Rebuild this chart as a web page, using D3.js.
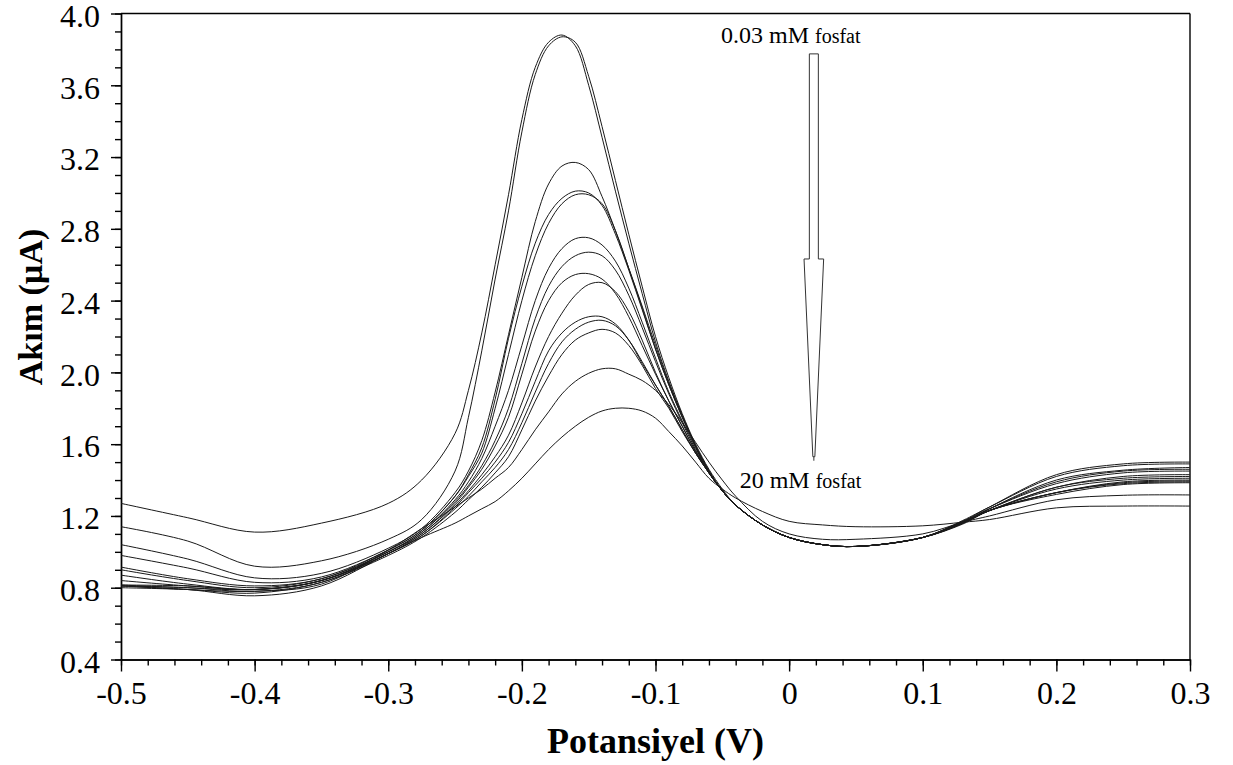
<!DOCTYPE html>
<html>
<head>
<meta charset="utf-8">
<script src="https://cdn.jsdelivr.net/npm/d3@7"></script>
<style>
  body { margin: 0; background: #fff; }
  text { font-family: "Liberation Serif", "Times New Roman", serif; fill: #000; }
  .axis path, .axis line { stroke: #000; stroke-width: 1.4; }
  .axis text { font-size: 32px; }
  .curve { fill: none; stroke: #1a1a1a; stroke-width: 1; }
</style>
</head>
<body>
<div id="chart"></div>
<script>
// potential grid (V) the curves were read at
var potential = [-0.5, -0.45, -0.4, -0.35, -0.3, -0.275, -0.25, -0.24, -0.23, -0.22, -0.21, -0.2, -0.19, -0.18,
  -0.17, -0.16, -0.15, -0.14, -0.13, -0.12, -0.11, -0.1, -0.09, -0.08, -0.07, -0.06, -0.05,
  -0.04, -0.02, 0, 0.025, 0.05, 0.1, 0.13, 0.15, 0.2, 0.25, 0.3];

// current (uA), one array per phosphate concentration, highest peak first
var curve1 = [1.27, 1.19, 1.11, 1.16, 1.27, 1.40, 1.66, 1.90, 2.22, 2.60, 2.99, 3.41, 3.70, 3.84, 3.88, 3.82, 3.60, 3.31, 3.01, 2.72, 2.44, 2.17, 1.95, 1.76, 1.59, 1.45, 1.34, 1.26, 1.15, 1.08, 1.04, 1.03, 1.08, 1.16, 1.24, 1.40, 1.455, 1.47];
var curve2 = [1.14, 1.06, 0.92, 0.95, 1.07, 1.18, 1.45, 1.75, 2.12, 2.52, 2.90, 3.34, 3.66, 3.82, 3.87, 3.84, 3.65, 3.37, 3.07, 2.77, 2.48, 2.20, 1.97, 1.77, 1.60, 1.46, 1.35, 1.26, 1.15, 1.08, 1.04, 1.03, 1.08, 1.17, 1.25, 1.43, 1.49, 1.50];
var curve3 = [1.04, 0.96, 0.855, 0.88, 1.02, 1.13, 1.33, 1.45, 1.62, 1.89, 2.21, 2.53, 2.84, 3.05, 3.15, 3.17, 3.13, 2.98, 2.79, 2.58, 2.37, 2.15, 1.94, 1.76, 1.59, 1.45, 1.34, 1.26, 1.15, 1.08, 1.04, 1.03, 1.08, 1.175, 1.25, 1.42, 1.48, 1.49];
var curve4 = [0.98, 0.91, 0.83, 0.86, 1.01, 1.12, 1.31, 1.43, 1.58, 1.85, 2.19, 2.48, 2.72, 2.88, 2.97, 3.01, 3.00, 2.93, 2.77, 2.57, 2.35, 2.13, 1.93, 1.75, 1.59, 1.45, 1.34, 1.26, 1.15, 1.08, 1.04, 1.03, 1.08, 1.165, 1.24, 1.39, 1.45, 1.46];
var curve5 = [0.915, 0.85, 0.81, 0.85, 1.01, 1.12, 1.31, 1.42, 1.55, 1.80, 2.10, 2.40, 2.65, 2.83, 2.94, 2.99, 2.99, 2.94, 2.79, 2.58, 2.36, 2.13, 1.93, 1.75, 1.59, 1.45, 1.34, 1.26, 1.15, 1.08, 1.04, 1.03, 1.08, 1.17, 1.24, 1.38, 1.44, 1.45];
var curve6 = [0.90, 0.84, 0.80, 0.85, 1.00, 1.11, 1.29, 1.39, 1.52, 1.70, 1.90, 2.15, 2.40, 2.58, 2.69, 2.745, 2.75, 2.71, 2.62, 2.47, 2.28, 2.08, 1.89, 1.73, 1.58, 1.44, 1.34, 1.26, 1.15, 1.08, 1.04, 1.03, 1.08, 1.16, 1.23, 1.36, 1.42, 1.43];
var curve7 = [0.87, 0.82, 0.79, 0.84, 1.00, 1.11, 1.28, 1.37, 1.48, 1.62, 1.80, 2.05, 2.30, 2.48, 2.59, 2.65, 2.67, 2.65, 2.57, 2.43, 2.25, 2.06, 1.88, 1.72, 1.57, 1.44, 1.34, 1.26, 1.15, 1.08, 1.04, 1.03, 1.08, 1.165, 1.23, 1.35, 1.40, 1.41];
var curve8 = [0.84, 0.81, 0.79, 0.84, 1.00, 1.10, 1.27, 1.36, 1.46, 1.59, 1.75, 1.99, 2.23, 2.40, 2.50, 2.545, 2.55, 2.52, 2.44, 2.31, 2.15, 1.99, 1.84, 1.70, 1.56, 1.44, 1.34, 1.26, 1.15, 1.08, 1.04, 1.03, 1.08, 1.17, 1.23, 1.36, 1.41, 1.42];
var curve9 = [0.815, 0.80, 0.79, 0.84, 0.99, 1.10, 1.26, 1.34, 1.43, 1.53, 1.65, 1.83, 2.03, 2.20, 2.33, 2.43, 2.49, 2.50, 2.45, 2.34, 2.18, 2.00, 1.84, 1.70, 1.56, 1.44, 1.34, 1.26, 1.15, 1.08, 1.04, 1.03, 1.08, 1.16, 1.23, 1.33, 1.38, 1.39];
var curve10 = [0.81, 0.80, 0.78, 0.83, 0.99, 1.09, 1.25, 1.33, 1.41, 1.50, 1.61, 1.77, 1.95, 2.12, 2.22, 2.28, 2.31, 2.31, 2.27, 2.18, 2.05, 1.93, 1.81, 1.68, 1.55, 1.44, 1.34, 1.26, 1.15, 1.08, 1.04, 1.03, 1.08, 1.165, 1.23, 1.33, 1.39, 1.40];
var curve11 = [0.815, 0.81, 0.79, 0.84, 0.99, 1.09, 1.24, 1.31, 1.39, 1.47, 1.57, 1.72, 1.89, 2.05, 2.17, 2.24, 2.28, 2.29, 2.26, 2.18, 2.06, 1.93, 1.81, 1.68, 1.55, 1.44, 1.34, 1.26, 1.15, 1.08, 1.04, 1.03, 1.08, 1.155, 1.23, 1.32, 1.375, 1.385];
var curve12 = [0.80, 0.79, 0.77, 0.83, 0.98, 1.08, 1.22, 1.29, 1.36, 1.44, 1.53, 1.68, 1.84, 1.98, 2.10, 2.18, 2.22, 2.24, 2.22, 2.15, 2.04, 1.91, 1.80, 1.67, 1.55, 1.44, 1.34, 1.26, 1.15, 1.08, 1.04, 1.03, 1.08, 1.16, 1.23, 1.33, 1.385, 1.395];
var curve13 = [0.81, 0.79, 0.78, 0.82, 1.01, 1.13, 1.25, 1.30, 1.35, 1.41, 1.47, 1.57, 1.68, 1.78, 1.88, 1.95, 1.995, 2.02, 2.02, 1.99, 1.955, 1.90, 1.82, 1.72, 1.61, 1.50, 1.40, 1.31, 1.17, 1.10, 1.07, 1.07, 1.10, 1.165, 1.20, 1.29, 1.315, 1.317];
var curve14 = [0.81, 0.79, 0.755, 0.81, 0.99, 1.08, 1.16, 1.20, 1.24, 1.28, 1.34, 1.41, 1.49, 1.57, 1.64, 1.70, 1.75, 1.785, 1.80, 1.80, 1.785, 1.745, 1.67, 1.59, 1.50, 1.41, 1.35, 1.30, 1.225, 1.17, 1.15, 1.14, 1.145, 1.165, 1.18, 1.245, 1.255, 1.255];

var curves = [curve1, curve2, curve3, curve4, curve5, curve6, curve7, curve8, curve9, curve10, curve11, curve12, curve13, curve14];

// axis ticks
var xTicks = [-0.5, -0.4, -0.3, -0.2, -0.1, 0, 0.1, 0.2, 0.3];
var xTickLabels = ["-0.5", "-0.4", "-0.3", "-0.2", "-0.1", "0", "0.1", "0.2", "0.3"];
var yTicks = [0.4, 0.8, 1.2, 1.6, 2.0, 2.4, 2.8, 3.2, 3.6, 4.0];
var yTickLabels = ["0.4", "0.8", "1.2", "1.6", "2.0", "2.4", "2.8", "3.2", "3.6", "4.0"];

var svgWidth = 1233;
var svgHeight = 765;

var margin = { top: 13.5, right: 43, bottom: 105.5, left: 121 };
var width = svgWidth - margin.left - margin.right;
var height = svgHeight - margin.top - margin.bottom;

var svg = d3.select("#chart")
  .append("svg")
  .attr("width", svgWidth)
  .attr("height", svgHeight);

var chartGroup = svg.append("g")
  .attr("transform", `translate(${margin.left}, ${margin.top})`);

var xScale = d3.scaleLinear().domain([-0.5, 0.3]).range([0, width]);
var yScale = d3.scaleLinear().domain([0.4, 4.0]).range([height, 0]);

// minor ticks first
chartGroup.append("g")
  .attr("class", "axis")
  .attr("transform", `translate(0, ${height})`)
  .call(d3.axisBottom(xScale)
    .tickValues(d3.range(0, 41).map(i => -0.5 + i * 0.02))
    .tickSize(6).tickSizeOuter(0).tickFormat(""));

chartGroup.append("g")
  .attr("class", "axis")
  .call(d3.axisLeft(yScale)
    .tickValues(d3.range(0, 37).map(i => 0.4 + i * 0.1))
    .tickSize(6).tickSizeOuter(0).tickFormat(""));

// major ticks with labels
chartGroup.append("g")
  .attr("class", "axis")
  .attr("transform", `translate(0, ${height})`)
  .call(d3.axisBottom(xScale)
    .tickValues(xTicks)
    .tickSize(12).tickSizeOuter(0).tickPadding(10)
    .tickFormat((d, i) => xTickLabels[i]));

var yAxis = chartGroup.append("g")
  .attr("class", "axis")
  .call(d3.axisLeft(yScale)
    .tickValues(yTicks)
    .tickSize(10).tickSizeOuter(0).tickPadding(11)
    .tickFormat((d, i) => yTickLabels[i]));

// labels sit a little low on their ticks in the original
yAxis.selectAll("text").attr("dy", "0.4em");
chartGroup.selectAll(".axis text").attr("fill", "#000");

// top and right frame lines
chartGroup.append("line")
  .attr("x1", 0).attr("x2", width).attr("y1", 0).attr("y2", 0)
  .attr("stroke", "#000").attr("stroke-width", 1.4);
chartGroup.append("line")
  .attr("x1", width).attr("x2", width).attr("y1", 0).attr("y2", height)
  .attr("stroke", "#000").attr("stroke-width", 1.4);

// voltammograms
var line = d3.line()
  .x((d, i) => xScale(potential[i]))
  .y(d => yScale(d))
  .curve(d3.curveCatmullRom.alpha(0.5));

chartGroup.selectAll(".curve")
  .data(curves)
  .enter()
  .append("path")
  .attr("class", "curve")
  .attr("d", line);

// arrow from low to high concentration
var arrowX = 0.0185;
var arrowTop = 3.775, arrowNeck = 2.632, arrowTip = 1.53;
var shaftHalf = 4.5, headHalf = 9.8;
var ax = xScale(arrowX);
var arrowPts = [
  [ax - shaftHalf, yScale(arrowTop)],
  [ax + shaftHalf, yScale(arrowTop)],
  [ax + shaftHalf, yScale(arrowNeck)],
  [ax + headHalf, yScale(arrowNeck)],
  [ax + 1, yScale(arrowTip)],
  [ax - 1, yScale(arrowTip)],
  [ax - headHalf, yScale(arrowNeck)],
  [ax - shaftHalf, yScale(arrowNeck)]
];
chartGroup.append("polygon")
  .attr("points", arrowPts.map(p => p.join(",")).join(" "))
  .attr("fill", "#fff")
  .attr("stroke", "#333")
  .attr("stroke-width", 1);
chartGroup.append("line")
  .attr("x1", ax).attr("x2", ax)
  .attr("y1", yScale(arrowTip)).attr("y2", yScale(arrowTip) + 4)
  .attr("stroke", "#333");

// concentration labels
function concLabel(xv, yv, num) {
  var t = chartGroup.append("text")
    .attr("x", xScale(xv))
    .attr("y", yScale(yv));
  t.append("tspan").style("font-size", "24px").text(num + " ");
  t.append("tspan").style("font-size", "20px").text("fosfat");
  return t;
}

concLabel(-0.051, 3.836, "0.03 mM");

// white box under the lower label hides the curve behind it
chartGroup.append("rect")
  .attr("x", xScale(-0.041)).attr("y", yScale(1.53) + 6)
  .attr("width", 142).attr("height", 28)
  .attr("fill", "#fff");
concLabel(-0.037, 1.356, "20 mM");

// axis titles
svg.append("text")
  .attr("x", margin.left + width / 2)
  .attr("y", 753)
  .attr("text-anchor", "middle")
  .style("font-size", "36px")
  .style("font-weight", "bold")
  .text("Potansiyel (V)");

svg.append("text")
  .attr("transform", "translate(42, 307) rotate(-90)")
  .attr("text-anchor", "middle")
  .style("font-size", "34px")
  .style("font-weight", "bold")
  .text("Akım (µA)");
</script>
</body>
</html>
